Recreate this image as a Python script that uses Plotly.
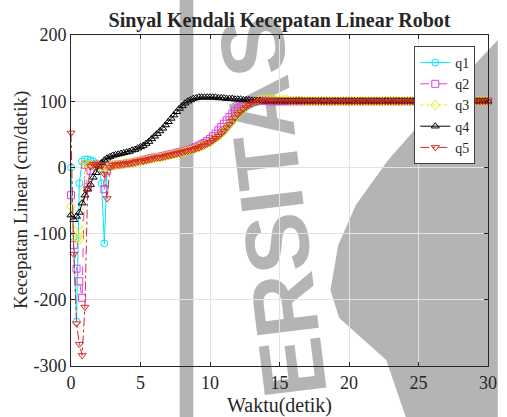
import plotly.graph_objects as go

# Time base: 0 .. 30 s, sampled every 0.2 s (151 samples)
t = [round(0.2 * i, 1) for i in range(151)]

# Start-up transients, t = 0.0 .. 3.0 s
early_q1 = [0, -105, -233, -24, 9, 12, 12, 11, 9, 6, 3, -24, -115, -5, 2, 3]
early_q2 = [-42, -117, -153, -172, -197, 4, -30, -5, 2, 4, 4, 3, -33, -5, 2, 3]
early_q3 = [-59, -95, -108, -109, -97, 6, 5, 4, 3, 3, 3, 2, -8, 0, 2, 3]
early_q4 = [-72, -79, -74, -68, -54, -42, -33, -26, -15, -8, 2, 7, 11, 14, 16, 18]
early_q5 = [52, -131, -236, -267, -284, -211, -32, 2, 5, 5, 4, 3, -10, -47, 0, 3]

# Rise towards the set point, t = 3.2 .. 15.0 s
ramp_main = [4, 4, 5, 5, 6, 6, 7, 8, 9, 10,
             10, 11, 12, 13, 14, 15, 15, 16, 17, 18,
             19, 20, 21, 22, 23, 24, 25, 26, 27, 29,
             30, 32, 34, 36, 38, 41, 44, 47, 51, 55,
             60, 65, 70, 75, 80, 84, 88, 91, 94, 96,
             98, 99, 100, 101, 101, 101, 101, 100, 100, 100]
ramp_q2 = [4, 4, 5, 5, 6, 7, 7, 8, 9, 10,
           11, 12, 13, 14, 15, 15, 16, 17, 18, 19,
           20, 21, 22, 23, 24, 25, 26, 27, 29, 31,
           33, 35, 37, 40, 43, 47, 51, 56, 61, 66,
           71, 76, 81, 85, 89, 92, 95, 97, 99, 100,
           101, 101, 101, 101, 101, 100, 100, 100, 100, 100]
ramp_q3 = [4, 4, 5, 5, 6, 6, 7, 8, 9, 10,
           10, 11, 12, 13, 14, 15, 15, 16, 17, 18,
           19, 20, 21, 22, 23, 24, 25, 26, 27, 29,
           30, 32, 34, 36, 38, 41, 44, 47, 51, 55,
           60, 65, 70, 75, 80, 84, 88, 92, 95, 98,
           100, 101, 102, 103, 103, 103, 103, 103, 102, 102]
ramp_q4 = [19, 20, 21, 22, 23, 24, 26, 27, 29, 31,
           33, 36, 39, 43, 47, 51, 55, 59, 64, 69,
           74, 79, 84, 89, 93, 97, 100, 102, 104, 105,
           106, 106, 106, 106, 106, 106, 106, 105, 105, 105,
           104, 104, 104, 103, 103, 103, 102, 102, 102, 101,
           101, 101, 101, 100, 100, 100, 100, 100, 100, 100]

# Steady state, t = 15.2 .. 30.0 s
tail = [100] * 75
tail_q3 = [102, 102, 102, 101, 101, 101, 101, 101, 100, 100] + [100] * 65

q1 = early_q1 + ramp_main + tail
q2 = early_q2 + ramp_q2 + tail
q3 = early_q3 + ramp_q3 + tail_q3
q4 = early_q4 + ramp_q4 + tail
q5 = early_q5 + ramp_main + tail

x_ticks = [0, 5, 10, 15, 20, 25, 30]
y_ticks = [-300, -200, -100, 0, 100, 200]
y_tick_text = ["-300", "-200", "-100", "0", "100", "200"]

series = [
    ("q1", q1, "#00e5ff", "solid", "circle-open"),
    ("q2", q2, "#e040e0", "dash", "square-open"),
    ("q3", q3, "#e8e800", "dot", "diamond-open"),
    ("q4", q4, "#000000", "solid", "triangle-up-open"),
    ("q5", q5, "#d42a2a", "dashdot", "triangle-down-open"),
]

FONT = "Liberation Serif"
INK = "#262626"
W, H = 507, 417
ML, MR, MT, MB = 71, 10, 35, 51
PW, PH = W - ML - MR, H - MT - MB


def px(x):
    """Horizontal pixel -> paper fraction."""
    return (x - ML) / PW


def py(y):
    """Vertical pixel (from top) -> paper fraction."""
    return (H - MB - y) / PH


fig = go.Figure()
for name, y, color, dash, symbol in series:
    fig.add_trace(go.Scatter(
        x=t, y=y, name=name, mode="lines+markers", cliponaxis=False,
        line=dict(color=color, width=1, dash=dash),
        marker=dict(symbol=symbol, size=7, color=color,
                    line=dict(color=color, width=1)),
    ))

axis_common = dict(
    showline=True, linecolor=INK, linewidth=1, mirror="ticks",
    ticks="inside", ticklen=4, tickcolor=INK,
    showgrid=True, gridcolor="#e3e3e3", gridwidth=1,
    zeroline=False, tickfont=dict(family=FONT, size=18, color=INK),
)

# Grey repository watermark drawn underneath the data
WM = "#b4b4b4"
poly = [(507, 40), (440, 110), (395, 160), (362, 205), (344, 245),
        (336, 290), (345, 318), (393, 360), (413, 417), (507, 417)]
poly_path = "M " + " L ".join(f"{px(a):.4f},{py(b):.4f}" for a, b in poly) + " Z"
shapes = [
    dict(type="rect", xref="paper", yref="paper", layer="below",
         x0=px(182), x1=px(196), y0=py(417), y1=py(0),
         fillcolor=WM, line=dict(width=0)),
    dict(type="path", xref="paper", yref="paper", layer="below",
         path=poly_path, fillcolor=WM, line=dict(width=0)),
    dict(type="rect", xref="paper", yref="paper", layer="below",
         x0=px(218), x1=px(318), y0=py(410), y1=py(6),
         fillcolor="rgba(0,0,0,0)", line=dict(width=0),
         label=dict(text="ERSITAS", textangle=-97,
                    textposition="middle center",
                    font=dict(family="Liberation Sans", size=90,
                              weight="bold", color=WM))),
]

fig.update_layout(
    width=W, height=H,
    margin=dict(l=ML, r=MR, t=MT, b=MB),
    paper_bgcolor="white", plot_bgcolor="rgba(0,0,0,0)",
    font=dict(family=FONT, color=INK),
    title=dict(text="<b>Sinyal Kendali Kecepatan Linear Robot</b>",
               x=0.5, xref="paper", y=1 - 20 / H, yanchor="middle",
               font=dict(family=FONT, size=20, color=INK)),
    xaxis=dict(range=[0, 30], tickvals=x_ticks, **axis_common),
    yaxis=dict(range=[-300, 200], tickvals=y_ticks, ticktext=y_tick_text,
               **axis_common),
    legend=dict(x=px(484), y=py(46), xanchor="right", yanchor="top",
                bgcolor="white", bordercolor="#404040", borderwidth=1,
                font=dict(family=FONT, size=14, color=INK),
                itemwidth=30, tracegroupgap=0),
    showlegend=True,
    shapes=shapes,
    annotations=[
        dict(text="Waktu(detik)", xref="paper", yref="paper",
             x=0.5, y=py(405), xanchor="center", yanchor="middle",
             showarrow=False, font=dict(family=FONT, size=20, color=INK)),
        dict(text="Kecepatan Linear (cm/detik)", xref="paper", yref="paper",
             x=px(20), y=py(200), xanchor="center", yanchor="middle",
             textangle=-90, showarrow=False,
             font=dict(family=FONT, size=19, color=INK)),
    ],
)

fig.write_html("out.html")
